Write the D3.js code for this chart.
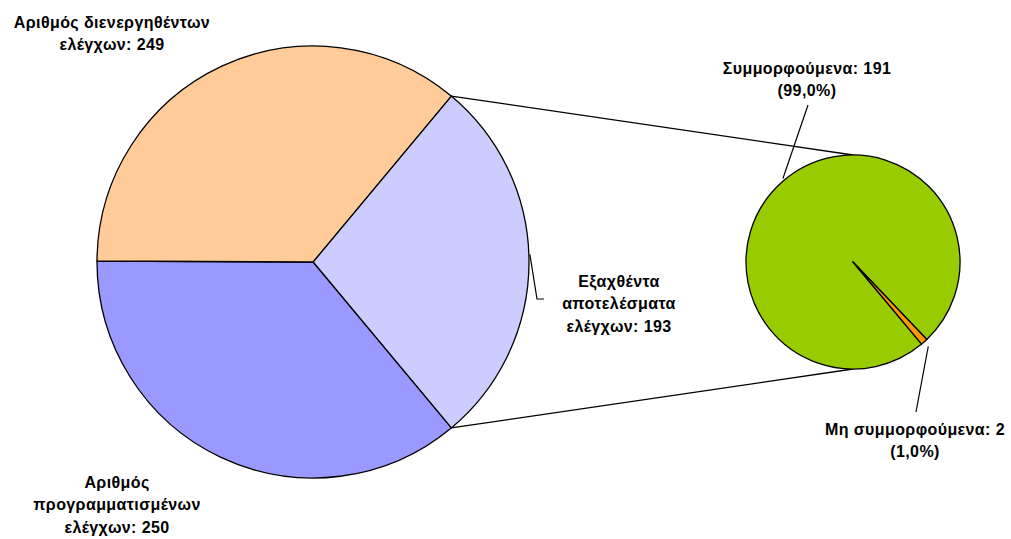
<!DOCTYPE html>
<html>
<head>
<meta charset="utf-8">
<script src="https://cdn.jsdelivr.net/npm/d3@7"></script>
<style>
  body { margin: 0; background: #fff; }
  svg text { font-family: "Liberation Sans", Arial, sans-serif; font-weight: bold; font-size: 16px; fill: #000; }
</style>
</head>
<body>
<div id="chart"></div>
<script>
// Main pie (clockwise from the split slice)
const mainLabels = [
  ['Εξαχθέντα', 'αποτελέσματα', 'ελέγχων: 193'],
  ['Αριθμός', 'προγραμματισμένων', 'ελέγχων: 250'],
  ['Αριθμός διενεργηθέντων', 'ελέγχων: 249']
];
const mainValues = [193, 250, 249];
const mainColors = ['#CCCCFF', '#9999FF', '#FFCC99'];

// Secondary pie (breakdown of the 193)
const subLabels = [
  ['Συμμορφούμενα: 191', '(99,0%)'],
  ['Μη συμμορφούμενα: 2', '(1,0%)']
];
const subValues = [191, 2];
const subColors = ['#99CC00', '#FF9900'];

const width = 1011, height = 539;
const rad = Math.PI / 180;

const svg = d3.select('#chart')
  .append('svg')
  .attr('width', width)
  .attr('height', height);

// main pie geometry
const c1 = {x: 313, y: 262}, r1 = 216;
const total = d3.sum(mainValues);
const splitSpan = mainValues[0] / total * 2 * Math.PI;
const pie1 = d3.pie().sort(null)
  .startAngle(Math.PI / 2 - splitSpan / 2)
  .endAngle(Math.PI / 2 - splitSpan / 2 + 2 * Math.PI);
const arcs1 = pie1(mainValues);
const arc1 = d3.arc().innerRadius(0).outerRadius(r1);

const g1 = svg.append('g').attr('transform', `translate(${c1.x},${c1.y})`);
g1.selectAll('path')
  .data(arcs1)
  .enter().append('path')
  .attr('d', arc1)
  .attr('fill', (d, i) => mainColors[i])
  .attr('stroke', '#000')
  .attr('stroke-width', 1.3)
  .attr('stroke-linejoin', 'round');

// secondary pie geometry
const c2 = {x: 853, y: 262}, r2 = 107;
const pie2 = d3.pie().sort(null)
  .startAngle(140.1 * rad)
  .endAngle(140.1 * rad + 2 * Math.PI);
const arcs2 = pie2(subValues);
const arc2 = d3.arc().innerRadius(0).outerRadius(r2);

// connector lines from the split slice to the secondary pie
const pt = (c, r, a) => [c.x + r * Math.sin(a), c.y - r * Math.cos(a)];
const split = arcs1[0];
const conn = [
  [pt(c1, r1, split.startAngle), [c2.x, c2.y - r2]],
  [pt(c1, r1, split.endAngle), [c2.x, c2.y + r2]]
];
svg.selectAll('line.conn')
  .data(conn)
  .enter().append('line')
  .attr('class', 'conn')
  .attr('x1', d => d[0][0]).attr('y1', d => d[0][1])
  .attr('x2', d => d[1][0]).attr('y2', d => d[1][1])
  .attr('stroke', '#000')
  .attr('stroke-width', 1.3);

const g2 = svg.append('g').attr('transform', `translate(${c2.x},${c2.y})`);
g2.selectAll('path')
  .data(arcs2)
  .enter().append('path')
  .attr('d', arc2)
  .attr('fill', (d, i) => subColors[i])
  .attr('stroke', '#000')
  .attr('stroke-width', 1.3)
  .attr('stroke-linejoin', 'round');

// labels
const lineH = 22.5;
function label(lines, cx, cy) {
  const t = svg.append('text')
    .attr('text-anchor', 'middle')
    .attr('letter-spacing', 0.4);
  lines.forEach((s, i) => {
    t.append('tspan')
      .attr('x', cx)
      .attr('y', cy + i * lineH)
      .attr('dy', '0.35em')
      .text(s);
  });
}
function leader(points) {
  svg.append('path')
    .attr('d', d3.line()(points))
    .attr('fill', 'none')
    .attr('stroke', '#000')
    .attr('stroke-width', 1.2);
}

// main pie labels
label(mainLabels[2], 112, 22);
label(mainLabels[1], 117, 482);
label(mainLabels[0], 619, 281);
const mid0 = (split.startAngle + split.endAngle) / 2;
const p0 = pt(c1, r1 + 1, mid0 - 2 * rad);
leader([p0, [537, 299], [544, 299]]);

// secondary pie labels
label(subLabels[0], 807, 68);
const pg = pt(c2, r2 + 2, 320 * rad);
leader([pg, [808, 105]]);

label(subLabels[1], 915, 429);
const oMid = (arcs2[1].startAngle + arcs2[1].endAngle) / 2;
const po = pt(c2, r2 + 6, oMid);
leader([po, [916, 412]]);
</script>
</body>
</html>
